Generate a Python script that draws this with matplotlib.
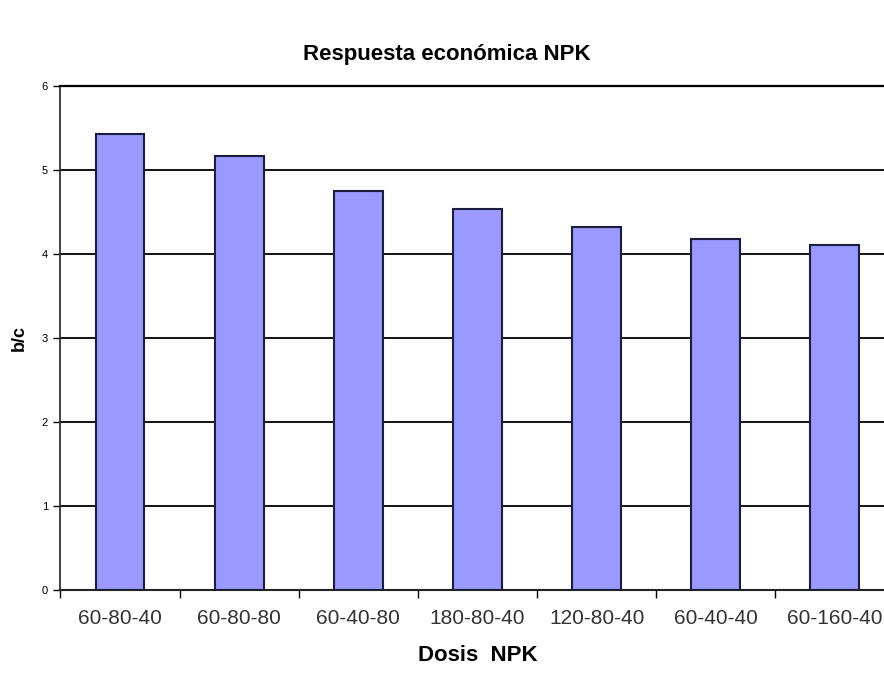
import matplotlib
matplotlib.use('Agg')
from matplotlib import pyplot as plt
import numpy as np

plt.rcParams['font.family'] = ['Liberation Sans', 'DejaVu Sans']

# dosis NPK y relacion beneficio/costo
dosis = ['60-80-40', '60-80-80', '60-40-80', '180-80-40', '120-80-40', '60-40-40', '60-160-40']
bc = [5.43, 5.17, 4.75, 4.54, 4.32, 4.18, 4.11]

fig = plt.figure(figsize=(8.84, 6.75), dpi=100)
ax = fig.add_axes([0.0684, 0.1259, 0.9434, 0.7467])

x = np.arange(len(dosis))
ax.bar(x, bc, width=0.41, color='#9999ff', edgecolor='#1c1c3c', linewidth=1.5, zorder=3)

ax.set_xlim(-0.5, len(dosis) - 0.5)
ax.set_ylim(0, 6)
ax.set_yticks(range(0, 7))
ax.tick_params(axis='y', labelsize=8, length=5, width=1, direction='out', pad=4)
ax.yaxis.grid(True, color='black', linewidth=1.3, zorder=1)

ax.set_xticks(x)
ax.set_xticklabels(dosis, fontsize=15, color='#333333')
ax.set_xticks(np.arange(-0.5, len(dosis)), minor=True)
ax.tick_params(axis='x', which='major', length=0, pad=14)
ax.tick_params(axis='x', which='minor', length=6, width=1, direction='out')

ax.spines['right'].set_visible(False)
ax.spines['top'].set_color('black')
ax.spines['top'].set_linewidth(1.6)
ax.spines['left'].set_color('#333333')
ax.spines['left'].set_linewidth(1.3)
ax.spines['bottom'].set_color('#222222')
ax.spines['bottom'].set_linewidth(1.5)

ax.set_xlabel('Dosis  NPK', fontsize=16, fontweight='bold', labelpad=12)
ax.set_ylabel('b/c', fontsize=13, fontweight='bold', labelpad=10)
fig.text(0.505, 0.919, 'Respuesta económica NPK', fontsize=16, fontweight='bold', ha='center', va='center')

fig.savefig('out.png', dpi=100)
